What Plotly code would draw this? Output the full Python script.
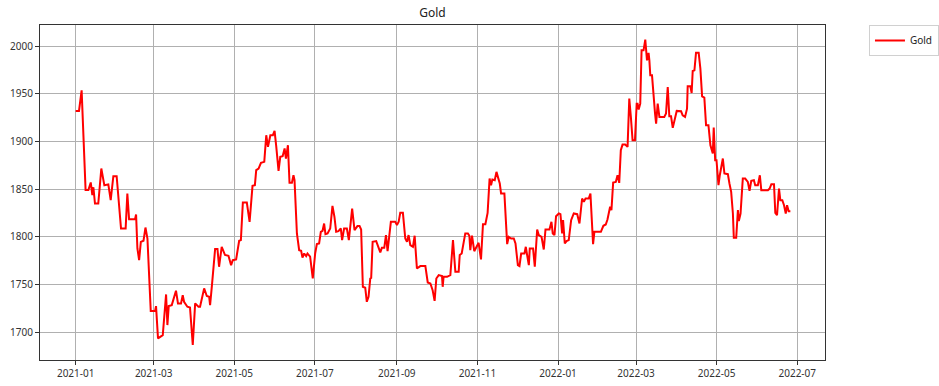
import pandas as pd
import plotly.graph_objects as go

# Days since 2021-01-01 and gold price
days = [0, 2.5, 4.5, 7.5, 9.6, 11.4, 12.6, 13.4, 14.6, 17.1, 19.4, 21.7, 24.7, 26.5, 28.5, 31,
        34.3, 37.8, 39.1, 40.4, 44.9, 45.7, 46.7, 48, 49.3, 51.3, 52.8, 54.3, 56.8, 60.1, 60.8,
        62.3, 65.9, 68.4, 69.4, 70.4, 72.7, 73.9, 75.9, 77.4, 79.7, 81, 82, 84.5, 86.5, 88.6,
        90.4, 92.9, 94.1, 97.2, 99.2, 101, 101.7, 103, 105.5, 107.3, 108.5,
        110.5, 113, 115.6, 116.8, 117.6, 118.9, 121.4, 123.7, 125, 126.5, 129.5, 131.6, 133.8,
        135.6, 136.6, 138.4, 140.2, 142.7, 144.2, 145.5, 147.3, 149.2, 150.5, 151.8, 153.5,
        154.8, 156.6, 158.1, 159.1, 160.6, 161.8, 163.6, 164.8, 165.6, 167.4, 169.1, 170.6,
        171.6, 172.9, 174.4, 175.4, 177.4, 179.4, 181.2, 182.5, 184.2, 185.5, 186.8, 188, 189,
        190.6, 192.6, 194.3, 195.8, 197.1, 198.8, 200.6, 201.6, 203.1, 205.2, 206.7, 209.2, 211,
        213.2, 214.8, 216, 217.3, 219.1, 220.3, 221.6, 222.9, 223.6, 224.7, 227.4, 229.2, 230.5,
        231.7, 233.5, 234.8, 236, 238.5, 241.8, 243.1, 244.4, 245.6,
        247.6, 249.4, 250.7, 251.9, 253.2, 255.2, 256.5, 258.2, 260.8, 264.6, 266.4, 268.4,
        270.1, 271.6, 272.9, 274.7, 277.2, 277.7, 278.4, 281, 283.5, 285.5, 287.3, 289.8, 290.6,
        292.1, 293.1, 294.8, 296.8, 297.9, 298.6, 299.9, 301.6, 303.2, 304.9, 306.7, 308.2, 310,
        311.7, 313.2, 314.3, 315.3, 317.1, 318.4, 319.6, 320.9, 321.9, 324.4, 326.5, 327.7,
        329.5, 331.5, 332.8, 334.6, 335.8, 337.1, 339.6, 340.6, 341.6, 342.9, 343.6, 346.1,
        347.4, 349.2, 350.4, 352.5, 354.2, 355.5, 358.5, 360, 361, 362.3, 363.5, 365.6, 366.8,
        368.1, 368.8, 370.1, 371.4, 373.1, 374.9, 376.9, 379.5, 381.2,
        383.2, 384.5, 385.8, 388.2, 389.5, 391.5, 392.5, 397.4, 399.3, 401.1, 402.4, 404.4,
        405.4, 406.7, 408.7, 410, 411.3, 412.5, 413.8, 415.8, 417.6, 418.9, 420.1, 421.4, 423.2,
        424.5, 425.2, 426, 427.2, 428.2, 429.7, 431, 432.3, 433.5, 434.1, 434.8, 436.1, 437.4,
        438.4, 439.2, 440.4, 441.7, 445.4, 446.7, 448, 449.2, 450.5, 451.8, 453.5, 454.8, 458.1,
        459.3, 461.1, 462.6, 463.1, 465.1, 466.1, 466.9, 468.2, 469.4, 471.4, 472.7, 474, 475.7,
        477, 478.8, 480.3, 481.3, 482.1, 482.8, 483.9, 484.9, 486.4, 487.4, 488.4, 489.7, 490.9,
        493.5, 494.7, 496, 497.3, 498, 499.8, 501.1, 501.8, 503.1, 504.8, 506.6, 508.6, 509.9,
        511.2, 513.2, 514.2, 516.2, 517.7, 518.8, 523.8, 525.1, 526.4, 528.4, 529.4, 530.7,
        532.2, 533.2, 534.7, 536, 537.3, 538.3, 539.5, 540.8]

gold = [1932, 1932, 1953.6, 1849, 1849, 1857, 1843.7, 1852, 1835, 1835, 1871.6, 1854, 1855,
        1838.5, 1863.6, 1863.6, 1808.8, 1808.8, 1845.4, 1818.6, 1818.6, 1823.5, 1787.9, 1775.6,
        1794.8, 1795.9, 1809.8, 1798.3, 1722.3, 1722.3, 1727.5, 1693.6, 1697, 1739.7, 1707.6,
        1727.5, 1728.5, 1734.5, 1743.6, 1730.3, 1730.3, 1739, 1732, 1726.8, 1726, 1686.7,
        1730.3, 1726.8, 1726.8, 1746, 1738, 1737.3, 1728.5, 1747.7, 1787.2, 1787.2, 1768.7,
        1789.6, 1781, 1780.2, 1775.6, 1770.4, 1775.6, 1776.4, 1795.9, 1796.6, 1836, 1836,
        1815.8, 1853.5, 1854.2, 1869.9, 1871.6, 1877.5, 1878.6, 1906.5, 1894.3, 1906.5, 1906.5,
        1911, 1894.3, 1869.2, 1883.8, 1884.5, 1892.6, 1882, 1896, 1856.6, 1856.6, 1864.6,
        1859.4, 1803.6, 1786.1, 1785.4, 1778.4, 1782.6, 1779.8, 1782.6, 1779.2, 1756.4, 1782.6,
        1792.4, 1793.1, 1805.3, 1806.4, 1814, 1802.9, 1803.6, 1808.8, 1832.5, 1821, 1805.3,
        1806, 1808.8, 1796.6, 1808.8, 1808.8, 1796.6, 1829.7, 1807, 1811.3, 1811.3, 1807.7,
        1747.7, 1746.7, 1732, 1737.3, 1756.4, 1757, 1794.8, 1795.6, 1789.6, 1783.7, 1788.6,
        1788.6, 1801.9, 1785, 1815.8, 1815.8, 1812.3, 1815.8, 1825.2,
        1825.2, 1798.3, 1794.8, 1801.9, 1791.4, 1789.6, 1801.2, 1766.9, 1769.4, 1769.4,
        1752.3, 1751.2, 1744.2, 1733, 1756.4, 1760, 1758.9, 1747.7, 1758.2, 1758.2, 1760,
        1796.6, 1763.4, 1763.4, 1781, 1782.6, 1789.6, 1803.6, 1803.6, 1801.2, 1786.1, 1801.2,
        1785, 1789.6, 1793.8, 1776.4, 1813.3, 1813.3, 1825.2, 1861.1, 1854.2, 1860.1, 1859.4,
        1868.1, 1862.9, 1855.9, 1845.4, 1845.4, 1792.4, 1800, 1798.3, 1798.3, 1793.1, 1770.4,
        1769.4, 1782.6, 1782.6, 1789.6, 1781, 1770.4, 1787.9, 1787.9, 1768.7, 1807.7, 1801.9,
        1800.1, 1786.8, 1807.7, 1807.7, 1815.8, 1803.6, 1801.9, 1821.7, 1824.5, 1823.8,
        1803.6, 1817.5, 1793.1, 1795.6, 1796.6, 1817.5, 1824.5, 1823.8, 1814,
        1840.2, 1836.7, 1840.2, 1840.2, 1845.4, 1792.4, 1805.3, 1805.3, 1811.6, 1813, 1818.2,
        1831.5, 1828, 1857, 1857.6, 1864.6, 1856.6, 1890.8, 1896.7, 1896.7, 1894.3, 1944.9,
        1925.7, 1901.3, 1901.3, 1939.6, 1939.6, 1933.4, 1939.6, 1995.5, 1995.5, 2006.6, 1985,
        1992.7, 1985, 1969.3, 1969.3, 1941.4, 1929.2, 1918.7, 1939.6, 1925.7, 1925.7, 1929.2,
        1957.1, 1926.4, 1926.4, 1914.2, 1925, 1932, 1931.6, 1927.4, 1925.7, 1934.4, 1957.8,
        1957.8, 1950.8, 1973.8, 1974.5, 1993, 1993, 1976.3, 1947.3, 1945.9, 1917, 1917, 1896,
        1889, 1887.3, 1914.5, 1880.3, 1880.3, 1854.2, 1864.6, 1873.3, 1882.1, 1866.4, 1865.7,
        1855.9, 1847.2, 1824.5, 1799, 1799, 1828, 1816.5, 1824.5, 1861.1, 1861.1, 1857.6,
        1848.2, 1858.7, 1859.4, 1854.2, 1854.2, 1864.6, 1848.9, 1848.9, 1850.6, 1855.2, 1855.2,
        1825.2, 1822.7, 1850.6, 1838.5, 1838.5, 1833.2, 1824.5, 1833.2, 1826.9, 1826.9]

start_date = "2021-01-01"
y_ticks = [1700, 1750, 1800, 1850, 1900, 1950, 2000]
x_ticks = ["2021-01-01", "2021-03-01", "2021-05-01", "2021-07-01", "2021-09-01",
           "2021-11-01", "2022-01-01", "2022-03-01", "2022-05-01", "2022-07-01"]

dates = pd.to_datetime(start_date) + pd.to_timedelta(days, unit="D")

fig = go.Figure()
fig.add_trace(go.Scatter(x=dates, y=gold, mode="lines", name="Gold",
                         line=dict(color="red", width=2)))

axis_common = dict(showline=True, linecolor="#333333", linewidth=1, mirror=True,
                   showgrid=True, gridcolor="#b0b0b0", gridwidth=1,
                   ticks="outside", ticklen=4, tickcolor="#333333", zeroline=False,
                   automargin=False,
                   tickfont=dict(size=10, color="#333333"))

fig.update_layout(
    width=939, height=386,
    margin=dict(l=40, r=114, t=25, b=26, autoexpand=False),
    paper_bgcolor="white", plot_bgcolor="white",
    font=dict(family="Noto Sans", size=11, color="#222222"),
    title=dict(text="Gold", x=(40 + 785 / 2) / 939, xanchor="center",
               y=1 - 13 / 386, yanchor="middle", font=dict(size=12, color="#222222")),
    showlegend=True,
    legend=dict(x=1.056, y=1.0, xanchor="left", yanchor="top",
                bordercolor="#d0d0d0", borderwidth=1, bgcolor="white",
                itemwidth=30, tracegroupgap=0,
                font=dict(size=10, color="#222222")),
    xaxis=dict(axis_common, range=["2020-12-05", "2022-07-22"],
               tickvals=x_ticks, tickformat="%Y-%m"),
    yaxis=dict(axis_common, range=[1671, 2022], tickvals=y_ticks),
)

fig.write_html("out.html",
               config={"displayModeBar": False},
               post_script="document.body.style.margin='0';document.body.style.overflow='hidden';")
